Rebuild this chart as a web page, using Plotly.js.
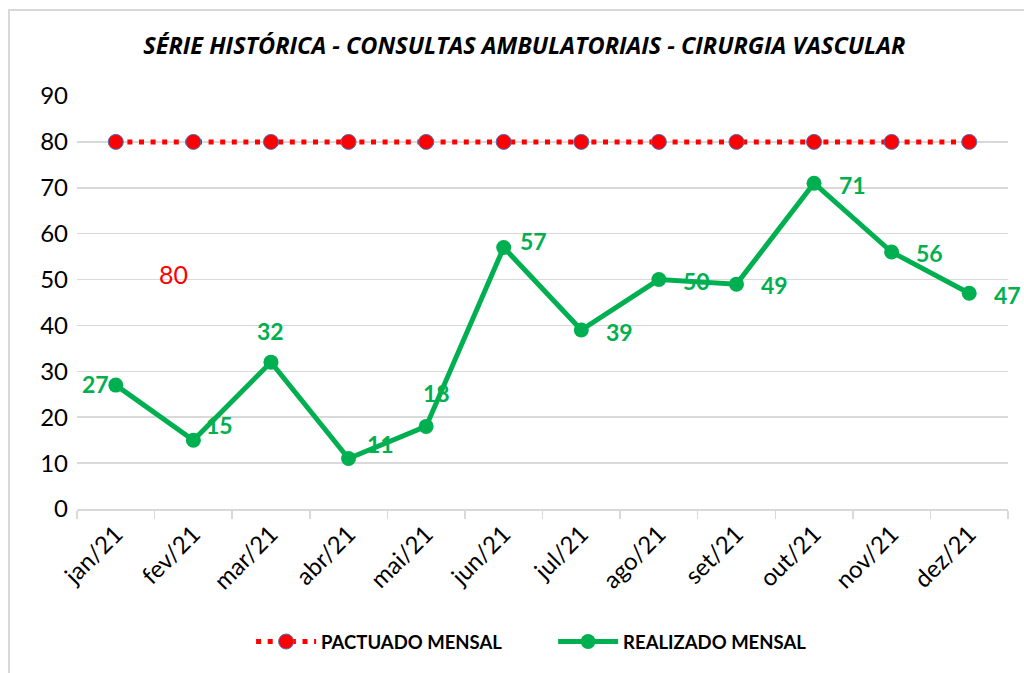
<!DOCTYPE html>
<html>
<head>
<meta charset="utf-8">
<script src="https://cdn.plot.ly/plotly-3.0.1.min.js"></script>
<style>
  html, body { margin: 0; padding: 0; background: #ffffff; overflow: hidden; }
  #frame { position: absolute; left: 8px; top: 9px; width: 1100px; height: 700px; border: 2px solid #d9d9d9; box-sizing: border-box; pointer-events: none; z-index: 2; }
  #chart { position: absolute; left: 0; top: 0; width: 1024px; height: 673px; }
</style>
</head>
<body>
<div id="chart"></div>
<div id="frame"></div>
<script>
const months = ["jan/21","fev/21","mar/21","abr/21","mai/21","jun/21","jul/21","ago/21","set/21","out/21","nov/21","dez/21"];
const pactuado = [80,80,80,80,80,80,80,80,80,80,80,80];
const realizado = [27,15,32,11,18,57,39,50,49,71,56,47];
// label offsets (px) for realizado data labels
const labelDx = [-20, 26, 0, 32, 10, 30, 38, 38, 38, 38, 38, 38];
const labelDy = [1, 15, 31, 15, 33, 6, -2, -1, -1, -2, -1, -2];

const FONT = "Lato, 'Open Sans', sans-serif";
const GREEN = "#00b050";

const traces = [
  {
    x: months, y: pactuado, name: "PACTUADO MENSAL", type: "scatter", mode: "lines+markers",
    line: {color: "#ff0000", width: 5, dash: "5px,6.6px"},
    marker: {color: "#ff0000", size: 15, line: {color: "#4472c4", width: 1}}
  },
  {
    x: months, y: realizado, name: "REALIZADO MENSAL", type: "scatter", mode: "lines+markers",
    line: {color: GREEN, width: 5},
    marker: {color: GREEN, size: 15}
  }
];

const annotations = realizado.map((v, i) => ({
  x: months[i], y: v, xref: "x", yref: "y", text: String(v), showarrow: false,
  xshift: labelDx[i], yshift: labelDy[i],
  font: {family: FONT, size: 23, color: GREEN, weight: "bold"}
}));
annotations.push({
  x: 0.75, y: 51.2, xref: "x", yref: "y", text: "80", showarrow: false,
  font: {family: FONT, size: 25, color: "#ff0000"}
});

const layout = {
  width: 1024, height: 673,
  paper_bgcolor: "#ffffff", plot_bgcolor: "#ffffff",
  margin: {l: 77, r: 16, t: 96, b: 164},
  title: {
    text: "<b><i>SÉRIE HISTÓRICA - CONSULTAS AMBULATORIAIS - CIRURGIA VASCULAR</i></b>",
    x: 0.512, xanchor: "center", y: 0.932, yanchor: "middle",
    font: {family: "'Open Sans', sans-serif", size: 23.5, color: "#000000"}
  },
  xaxis: {
    type: "category", tickson: "boundaries", ticks: "outside", ticklen: 8, tickcolor: "#d9d9d9", tickwidth: 1.5,
    showline: true, linecolor: "#d9d9d9", linewidth: 1.5, showgrid: false,
    tickangle: -45, tickfont: {family: FONT, size: 24, color: "#000000"},
    range: [-0.5, 11.5]
  },
  yaxis: {
    range: [0, 90], dtick: 10, showgrid: true, gridcolor: "#d9d9d9", gridwidth: 1.5,
    zeroline: false, showline: false, ticks: "", ticklabelstandoff: 8,
    tickfont: {family: FONT, size: 24, color: "#000000"}
  },
  showlegend: true,
  legend: {
    orientation: "h", x: 0.187, xanchor: "left", y: -0.322, yanchor: "middle",
    font: {family: FONT, size: 18.5, color: "#000000", weight: "bold"},
    itemwidth: 60, entrywidth: 227
  },
  annotations: annotations
};

Plotly.newPlot("chart", traces, layout, {displayModeBar: false, staticPlot: true});
</script>
</body>
</html>
